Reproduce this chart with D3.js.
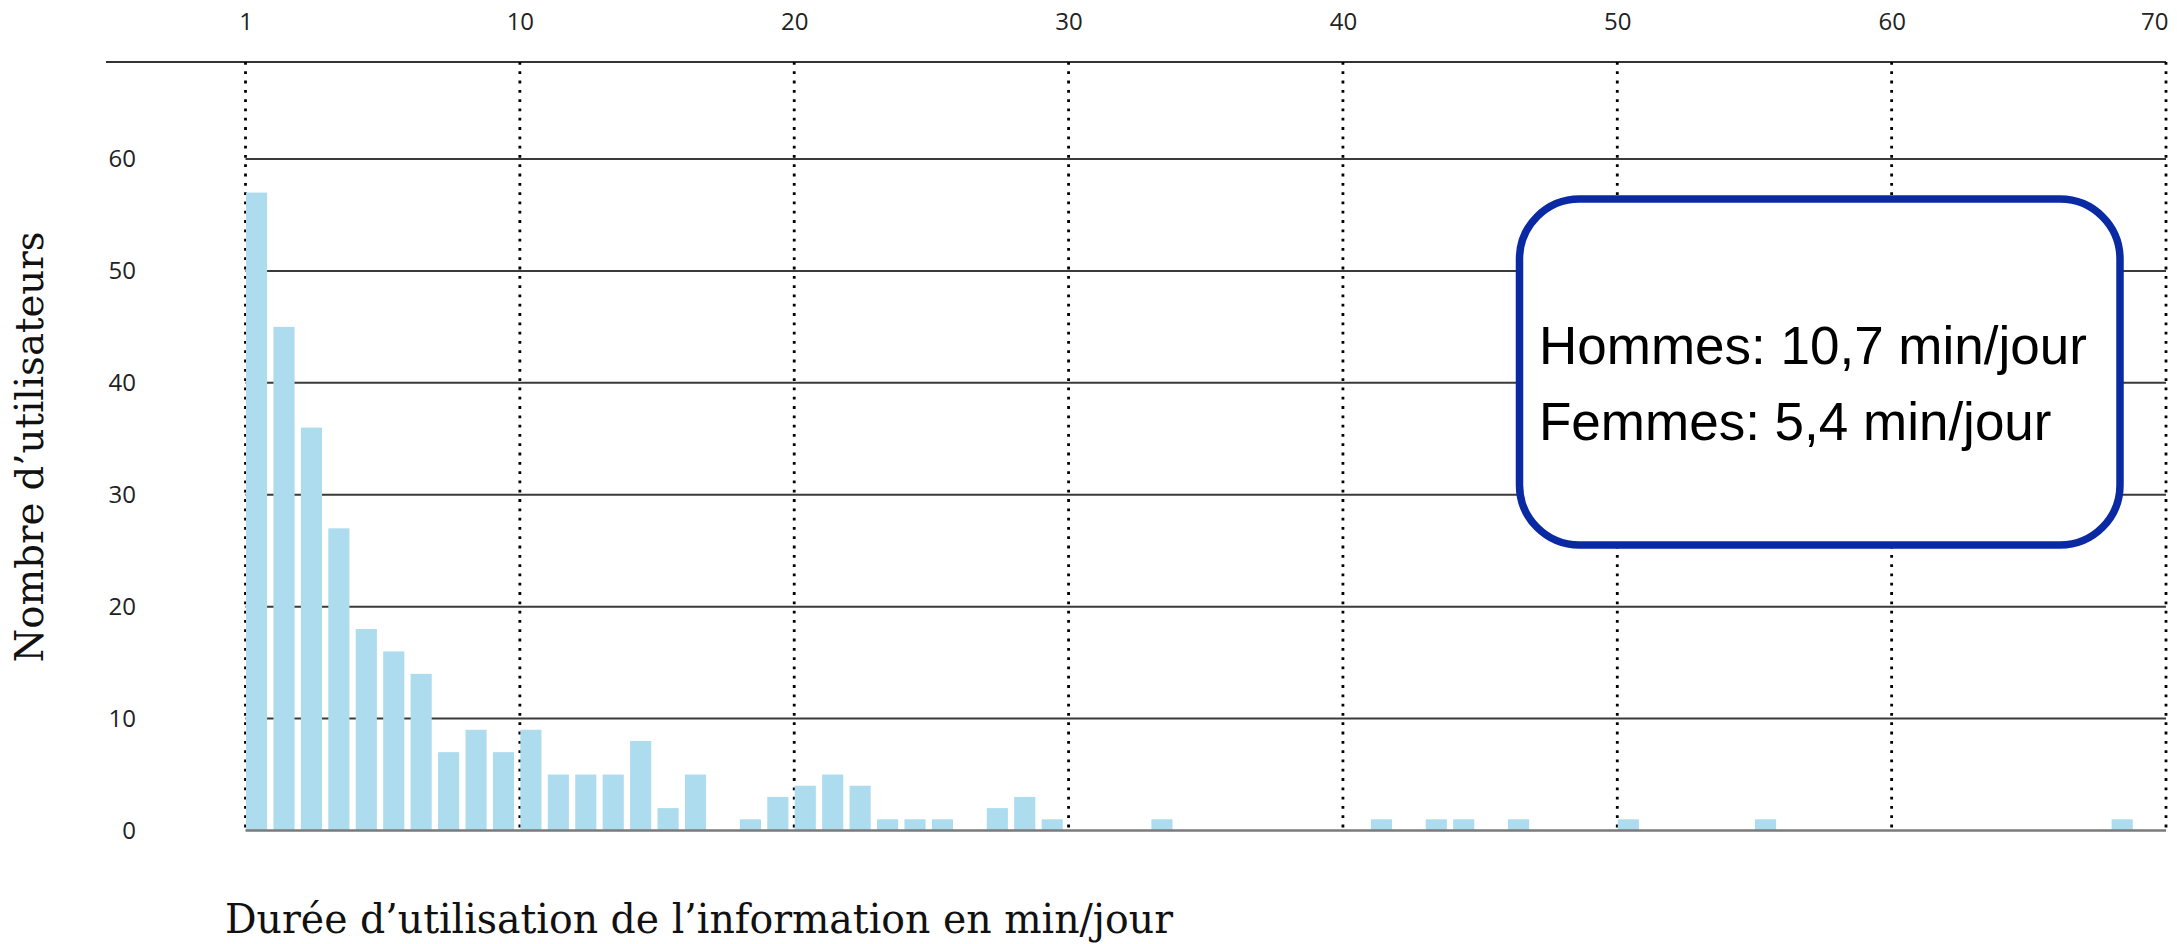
<!DOCTYPE html>
<html>
<head>
<meta charset="utf-8">
<script src="https://cdn.jsdelivr.net/npm/d3@7"></script>
<style>
  html, body { margin: 0; padding: 0; background: #fff; }
  svg { display: block; }
  .tick-label { font-family: "Open Sans", "Noto Sans", sans-serif; font-size: 24px; fill: #222; }
  .axis-title { font-family: "DejaVu Serif", serif; fill: #111; }
  .note { font-family: "Liberation Sans", Arial, sans-serif; font-size: 53px; fill: #000; }
</style>
</head>
<body>
<svg id="chart" width="2177" height="944"></svg>
<script>
// Durée d'utilisation (min/jour) -> nombre d'utilisateurs
const durations = [1, 2, 3, 4, 5, 6, 7, 8, 9, 10, 11, 12, 13, 14, 15, 16, 17,
  19, 20, 21, 22, 23, 24, 25, 26, 28, 29, 30, 34, 42, 44, 45, 47, 51, 56, 69];
const users = [57, 45, 36, 27, 18, 16, 14, 7, 9, 7, 9, 5, 5, 5, 8, 2, 5,
  1, 3, 4, 5, 4, 1, 1, 1, 2, 3, 1, 1, 1, 1, 1, 1, 1, 1, 1];

const xTicks = [0, 10, 20, 30, 40, 50, 60, 70];
const xTickLabels = ['1', '10', '20', '30', '40', '50', '60', '70'];
const yTicks = [0, 10, 20, 30, 40, 50, 60];

const noteLines = ['Hommes: 10,7 min/jour', 'Femmes: 5,4 min/jour'];
const xTitle = 'Durée d’utilisation de l’information en min/jour';
const yTitle = 'Nombre d’utilisateurs';

const data = durations.map((d, i) => ({ duration: d, count: users[i] }));

const plotLeft = 245.5;
const plotRight = 2166;
const plotTop = 62;
const plotBottom = 830.5;

const x = d3.scaleLinear().domain([0, 70]).range([plotLeft, plotRight]);
const y = d3.scaleLinear().domain([0, 60]).range([plotBottom, 159]);

const svg = d3.select('#chart');

// horizontal gridlines
svg.append('g')
  .selectAll('line')
  .data(yTicks.filter(d => d > 0))
  .join('line')
  .attr('x1', plotLeft)
  .attr('x2', plotRight)
  .attr('y1', d => y(d))
  .attr('y2', d => y(d))
  .attr('stroke', '#3a3a3a')
  .attr('stroke-width', 2);

// top frame line
svg.append('line')
  .attr('x1', 106)
  .attr('x2', plotRight)
  .attr('y1', plotTop)
  .attr('y2', plotTop)
  .attr('stroke', '#333')
  .attr('stroke-width', 2);

// dotted verticals
svg.append('g')
  .selectAll('line')
  .data(xTicks)
  .join('line')
  .attr('x1', d => x(d))
  .attr('x2', d => x(d))
  .attr('y1', plotTop)
  .attr('y2', plotBottom)
  .attr('stroke', '#000')
  .attr('stroke-width', 2.8)
  .attr('stroke-dasharray', '2.8 6.5');

// bars
const band = x(1) - x(0);
svg.append('g')
  .selectAll('rect')
  .data(data)
  .join('rect')
  .attr('x', d => x(d.duration - 1) + 0.5)
  .attr('y', d => y(d.count))
  .attr('width', band * 0.77)
  .attr('height', d => y(0) - y(d.count))
  .attr('fill', '#acdcee');

// zero line
svg.append('line')
  .attr('x1', plotLeft)
  .attr('x2', plotRight)
  .attr('y1', y(0))
  .attr('y2', y(0))
  .attr('stroke', '#7a7a7a')
  .attr('stroke-width', 2.5);

// top axis labels
const xAxis = d3.axisTop(x)
  .tickValues(xTicks)
  .tickFormat((d, i) => xTickLabels[i])
  .tickSize(0)
  .tickPadding(32);

const xAxisG = svg.append('g')
  .attr('transform', `translate(0,${plotTop})`)
  .call(xAxis);
xAxisG.select('.domain').remove();
xAxisG.selectAll('text')
  .attr('class', 'tick-label')
  .attr('font-family', null)
  .attr('font-size', null)
  .attr('fill', null)
  .attr('text-anchor', (d, i) => (i === xTicks.length - 1 ? 'end' : 'middle'))
  .attr('dx', (d, i) => (i === xTicks.length - 1 ? 2 : 0));

// left axis labels
const yAxis = d3.axisLeft(y)
  .tickValues(yTicks)
  .tickFormat(d3.format('d'))
  .tickSize(0)
  .tickPadding(plotLeft - 136);

const yAxisG = svg.append('g')
  .attr('transform', `translate(${plotLeft},0)`)
  .call(yAxis);
yAxisG.select('.domain').remove();
yAxisG.selectAll('text')
  .attr('class', 'tick-label')
  .attr('font-family', null)
  .attr('font-size', null)
  .attr('fill', null);

// axis titles
svg.append('text')
  .attr('class', 'axis-title')
  .attr('transform', 'translate(43,447) rotate(-90)')
  .attr('text-anchor', 'middle')
  .attr('font-size', 40)
  .attr('textLength', 431)
  .attr('lengthAdjust', 'spacingAndGlyphs')
  .text(yTitle);

svg.append('text')
  .attr('class', 'axis-title')
  .attr('x', 225)
  .attr('y', 933)
  .attr('font-size', 41)
  .attr('textLength', 948)
  .attr('lengthAdjust', 'spacingAndGlyphs')
  .text(xTitle);

// annotation box
const note = svg.append('g');
note.append('rect')
  .attr('x', 1519.5)
  .attr('y', 199)
  .attr('width', 600.5)
  .attr('height', 346)
  .attr('rx', 60)
  .attr('ry', 60)
  .attr('fill', '#fff')
  .attr('stroke', '#0a2aa3')
  .attr('stroke-width', 7.5);

note.selectAll('text')
  .data(noteLines)
  .join('text')
  .attr('class', 'note')
  .attr('x', 1539)
  .attr('y', (d, i) => 364 + i * 76)
  .text(d => d);
</script>
</body>
</html>
